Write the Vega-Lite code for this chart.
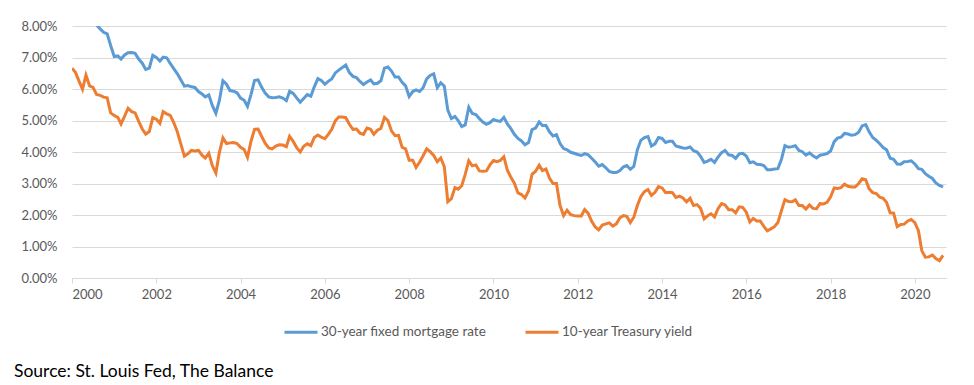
{
 "$schema": "https://vega.github.io/schema/vega-lite/v6.json",
 "width": 874, "height": 252,
 "autosize": {"type": "none"},
 "padding": {"left": 72, "top": 26, "right": 28, "bottom": 107},
 "background": "white",
 "config": {"view": {"stroke": null}, "font": "Lato"},
 "title": {"text": "Source: St. Louis Fed, The Balance", "orient": "bottom", "anchor": "start", "frame": "group", "dx": -58, "dy": -16, "offset": 54, "baseline": "alphabetic", "fontSize": 17.5, "fontWeight": "normal", "color": "#000000", "font": "Lato"},
 "data": {"format": {"parse": {"d": "date:'%Y-%m'"}}, "values": [
{"d":"2000-01","m":8.21,"t":6.66},{"d":"2000-02","m":8.33,"t":6.52},{"d":"2000-03","m":8.24,"t":6.26},{"d":"2000-04","m":8.15,"t":5.99},{"d":"2000-05","m":8.52,"t":6.44},{"d":"2000-06","m":8.29,"t":6.10},{"d":"2000-07","m":8.15,"t":6.05},{"d":"2000-08","m":8.03,"t":5.83},{"d":"2000-09","m":7.91,"t":5.80},{"d":"2000-10","m":7.80,"t":5.74},{"d":"2000-11","m":7.75,"t":5.72},{"d":"2000-12","m":7.38,"t":5.24},
{"d":"2001-01","m":7.03,"t":5.16},{"d":"2001-02","m":7.05,"t":5.10},{"d":"2001-03","m":6.95,"t":4.89},{"d":"2001-04","m":7.08,"t":5.14},{"d":"2001-05","m":7.15,"t":5.39},{"d":"2001-06","m":7.16,"t":5.28},{"d":"2001-07","m":7.13,"t":5.24},{"d":"2001-08","m":6.95,"t":4.97},{"d":"2001-09","m":6.82,"t":4.73},{"d":"2001-10","m":6.62,"t":4.57},{"d":"2001-11","m":6.66,"t":4.65},{"d":"2001-12","m":7.07,"t":5.09},
{"d":"2002-01","m":7.00,"t":5.04},{"d":"2002-02","m":6.89,"t":4.91},{"d":"2002-03","m":7.01,"t":5.28},{"d":"2002-04","m":6.99,"t":5.21},{"d":"2002-05","m":6.81,"t":5.16},{"d":"2002-06","m":6.65,"t":4.93},{"d":"2002-07","m":6.49,"t":4.65},{"d":"2002-08","m":6.29,"t":4.26},{"d":"2002-09","m":6.09,"t":3.87},{"d":"2002-10","m":6.11,"t":3.94},{"d":"2002-11","m":6.07,"t":4.05},{"d":"2002-12","m":6.05,"t":4.03},
{"d":"2003-01","m":5.92,"t":4.05},{"d":"2003-02","m":5.84,"t":3.90},{"d":"2003-03","m":5.75,"t":3.81},{"d":"2003-04","m":5.81,"t":3.96},{"d":"2003-05","m":5.48,"t":3.57},{"d":"2003-06","m":5.23,"t":3.33},{"d":"2003-07","m":5.63,"t":3.98},{"d":"2003-08","m":6.26,"t":4.45},{"d":"2003-09","m":6.15,"t":4.27},{"d":"2003-10","m":5.95,"t":4.29},{"d":"2003-11","m":5.93,"t":4.30},{"d":"2003-12","m":5.88,"t":4.27},
{"d":"2004-01","m":5.71,"t":4.15},{"d":"2004-02","m":5.64,"t":4.08},{"d":"2004-03","m":5.45,"t":3.83},{"d":"2004-04","m":5.83,"t":4.35},{"d":"2004-05","m":6.27,"t":4.72},{"d":"2004-06","m":6.29,"t":4.73},{"d":"2004-07","m":6.06,"t":4.50},{"d":"2004-08","m":5.87,"t":4.28},{"d":"2004-09","m":5.75,"t":4.13},{"d":"2004-10","m":5.72,"t":4.10},{"d":"2004-11","m":5.73,"t":4.19},{"d":"2004-12","m":5.75,"t":4.23},
{"d":"2005-01","m":5.71,"t":4.22},{"d":"2005-02","m":5.63,"t":4.17},{"d":"2005-03","m":5.93,"t":4.50},{"d":"2005-04","m":5.86,"t":4.34},{"d":"2005-05","m":5.72,"t":4.14},{"d":"2005-06","m":5.58,"t":4.00},{"d":"2005-07","m":5.70,"t":4.18},{"d":"2005-08","m":5.82,"t":4.26},{"d":"2005-09","m":5.77,"t":4.20},{"d":"2005-10","m":6.07,"t":4.46},{"d":"2005-11","m":6.33,"t":4.54},{"d":"2005-12","m":6.27,"t":4.47},
{"d":"2006-01","m":6.15,"t":4.42},{"d":"2006-02","m":6.25,"t":4.57},{"d":"2006-03","m":6.32,"t":4.72},{"d":"2006-04","m":6.51,"t":4.99},{"d":"2006-05","m":6.60,"t":5.11},{"d":"2006-06","m":6.68,"t":5.11},{"d":"2006-07","m":6.76,"t":5.09},{"d":"2006-08","m":6.52,"t":4.88},{"d":"2006-09","m":6.40,"t":4.72},{"d":"2006-10","m":6.36,"t":4.73},{"d":"2006-11","m":6.24,"t":4.60},{"d":"2006-12","m":6.14,"t":4.56},
{"d":"2007-01","m":6.22,"t":4.76},{"d":"2007-02","m":6.29,"t":4.72},{"d":"2007-03","m":6.16,"t":4.56},{"d":"2007-04","m":6.18,"t":4.69},{"d":"2007-05","m":6.26,"t":4.75},{"d":"2007-06","m":6.66,"t":5.10},{"d":"2007-07","m":6.70,"t":5.00},{"d":"2007-08","m":6.57,"t":4.67},{"d":"2007-09","m":6.38,"t":4.52},{"d":"2007-10","m":6.38,"t":4.53},{"d":"2007-11","m":6.21,"t":4.15},{"d":"2007-12","m":6.10,"t":4.10},
{"d":"2008-01","m":5.76,"t":3.74},{"d":"2008-02","m":5.92,"t":3.74},{"d":"2008-03","m":5.97,"t":3.51},{"d":"2008-04","m":5.92,"t":3.68},{"d":"2008-05","m":6.04,"t":3.88},{"d":"2008-06","m":6.32,"t":4.10},{"d":"2008-07","m":6.43,"t":4.01},{"d":"2008-08","m":6.48,"t":3.89},{"d":"2008-09","m":6.04,"t":3.69},{"d":"2008-10","m":6.20,"t":3.81},{"d":"2008-11","m":6.09,"t":3.53},{"d":"2008-12","m":5.33,"t":2.42},
{"d":"2009-01","m":5.06,"t":2.52},{"d":"2009-02","m":5.13,"t":2.87},{"d":"2009-03","m":5.00,"t":2.82},{"d":"2009-04","m":4.81,"t":2.93},{"d":"2009-05","m":4.86,"t":3.29},{"d":"2009-06","m":5.42,"t":3.72},{"d":"2009-07","m":5.22,"t":3.56},{"d":"2009-08","m":5.19,"t":3.59},{"d":"2009-09","m":5.06,"t":3.40},{"d":"2009-10","m":4.95,"t":3.39},{"d":"2009-11","m":4.88,"t":3.40},{"d":"2009-12","m":4.93,"t":3.59},
{"d":"2010-01","m":5.03,"t":3.73},{"d":"2010-02","m":4.99,"t":3.69},{"d":"2010-03","m":4.97,"t":3.73},{"d":"2010-04","m":5.10,"t":3.85},{"d":"2010-05","m":4.89,"t":3.42},{"d":"2010-06","m":4.74,"t":3.20},{"d":"2010-07","m":4.56,"t":3.01},{"d":"2010-08","m":4.43,"t":2.70},{"d":"2010-09","m":4.35,"t":2.65},{"d":"2010-10","m":4.23,"t":2.54},{"d":"2010-11","m":4.30,"t":2.76},{"d":"2010-12","m":4.71,"t":3.29},
{"d":"2011-01","m":4.76,"t":3.39},{"d":"2011-02","m":4.95,"t":3.58},{"d":"2011-03","m":4.84,"t":3.41},{"d":"2011-04","m":4.84,"t":3.46},{"d":"2011-05","m":4.64,"t":3.17},{"d":"2011-06","m":4.51,"t":3.00},{"d":"2011-07","m":4.55,"t":3.00},{"d":"2011-08","m":4.27,"t":2.30},{"d":"2011-09","m":4.11,"t":1.98},{"d":"2011-10","m":4.07,"t":2.15},{"d":"2011-11","m":3.99,"t":2.01},{"d":"2011-12","m":3.96,"t":1.98},
{"d":"2012-01","m":3.92,"t":1.97},{"d":"2012-02","m":3.89,"t":1.97},{"d":"2012-03","m":3.95,"t":2.17},{"d":"2012-04","m":3.91,"t":2.05},{"d":"2012-05","m":3.80,"t":1.80},{"d":"2012-06","m":3.68,"t":1.62},{"d":"2012-07","m":3.55,"t":1.53},{"d":"2012-08","m":3.60,"t":1.68},{"d":"2012-09","m":3.50,"t":1.72},{"d":"2012-10","m":3.38,"t":1.75},{"d":"2012-11","m":3.35,"t":1.65},{"d":"2012-12","m":3.35,"t":1.72},
{"d":"2013-01","m":3.41,"t":1.91},{"d":"2013-02","m":3.53,"t":1.98},{"d":"2013-03","m":3.57,"t":1.96},{"d":"2013-04","m":3.45,"t":1.76},{"d":"2013-05","m":3.54,"t":1.93},{"d":"2013-06","m":4.07,"t":2.30},{"d":"2013-07","m":4.37,"t":2.58},{"d":"2013-08","m":4.46,"t":2.74},{"d":"2013-09","m":4.49,"t":2.81},{"d":"2013-10","m":4.19,"t":2.62},{"d":"2013-11","m":4.26,"t":2.72},{"d":"2013-12","m":4.46,"t":2.90},
{"d":"2014-01","m":4.43,"t":2.86},{"d":"2014-02","m":4.30,"t":2.71},{"d":"2014-03","m":4.34,"t":2.72},{"d":"2014-04","m":4.34,"t":2.71},{"d":"2014-05","m":4.19,"t":2.56},{"d":"2014-06","m":4.16,"t":2.60},{"d":"2014-07","m":4.13,"t":2.54},{"d":"2014-08","m":4.12,"t":2.42},{"d":"2014-09","m":4.16,"t":2.53},{"d":"2014-10","m":4.04,"t":2.30},{"d":"2014-11","m":4.00,"t":2.33},{"d":"2014-12","m":3.86,"t":2.21},
{"d":"2015-01","m":3.67,"t":1.88},{"d":"2015-02","m":3.71,"t":1.98},{"d":"2015-03","m":3.77,"t":2.04},{"d":"2015-04","m":3.67,"t":1.94},{"d":"2015-05","m":3.84,"t":2.20},{"d":"2015-06","m":3.98,"t":2.36},{"d":"2015-07","m":4.05,"t":2.32},{"d":"2015-08","m":3.91,"t":2.17},{"d":"2015-09","m":3.89,"t":2.17},{"d":"2015-10","m":3.80,"t":2.07},{"d":"2015-11","m":3.94,"t":2.26},{"d":"2015-12","m":3.96,"t":2.24},
{"d":"2016-01","m":3.87,"t":2.09},{"d":"2016-02","m":3.66,"t":1.78},{"d":"2016-03","m":3.69,"t":1.89},{"d":"2016-04","m":3.61,"t":1.81},{"d":"2016-05","m":3.60,"t":1.81},{"d":"2016-06","m":3.57,"t":1.64},{"d":"2016-07","m":3.44,"t":1.50},{"d":"2016-08","m":3.44,"t":1.56},{"d":"2016-09","m":3.46,"t":1.63},{"d":"2016-10","m":3.47,"t":1.76},{"d":"2016-11","m":3.77,"t":2.14},{"d":"2016-12","m":4.20,"t":2.49},
{"d":"2017-01","m":4.15,"t":2.43},{"d":"2017-02","m":4.17,"t":2.42},{"d":"2017-03","m":4.20,"t":2.48},{"d":"2017-04","m":4.05,"t":2.30},{"d":"2017-05","m":4.01,"t":2.30},{"d":"2017-06","m":3.90,"t":2.19},{"d":"2017-07","m":3.97,"t":2.32},{"d":"2017-08","m":3.88,"t":2.21},{"d":"2017-09","m":3.81,"t":2.20},{"d":"2017-10","m":3.90,"t":2.36},{"d":"2017-11","m":3.92,"t":2.35},{"d":"2017-12","m":3.95,"t":2.40},
{"d":"2018-01","m":4.03,"t":2.58},{"d":"2018-02","m":4.33,"t":2.86},{"d":"2018-03","m":4.44,"t":2.84},{"d":"2018-04","m":4.47,"t":2.87},{"d":"2018-05","m":4.59,"t":2.98},{"d":"2018-06","m":4.57,"t":2.91},{"d":"2018-07","m":4.53,"t":2.89},{"d":"2018-08","m":4.55,"t":2.89},{"d":"2018-09","m":4.63,"t":3.00},{"d":"2018-10","m":4.83,"t":3.15},{"d":"2018-11","m":4.87,"t":3.12},{"d":"2018-12","m":4.64,"t":2.83},
{"d":"2019-01","m":4.46,"t":2.71},{"d":"2019-02","m":4.37,"t":2.68},{"d":"2019-03","m":4.27,"t":2.57},{"d":"2019-04","m":4.14,"t":2.53},{"d":"2019-05","m":4.07,"t":2.40},{"d":"2019-06","m":3.80,"t":2.07},{"d":"2019-07","m":3.77,"t":2.06},{"d":"2019-08","m":3.62,"t":1.63},{"d":"2019-09","m":3.61,"t":1.70},{"d":"2019-10","m":3.69,"t":1.71},{"d":"2019-11","m":3.70,"t":1.81},{"d":"2019-12","m":3.72,"t":1.86},
{"d":"2020-01","m":3.62,"t":1.76},{"d":"2020-02","m":3.47,"t":1.50},{"d":"2020-03","m":3.45,"t":0.87},{"d":"2020-04","m":3.31,"t":0.66},{"d":"2020-05","m":3.23,"t":0.67},{"d":"2020-06","m":3.16,"t":0.73},{"d":"2020-07","m":3.02,"t":0.62},{"d":"2020-08","m":2.94,"t":0.55},{"d":"2020-09","m":2.89,"t":0.72}
 ]},
 "transform": [{"fold": ["m", "t"], "as": ["k", "v"]}],
 "mark": {"type": "line", "strokeWidth": 3, "clip": true},
 "encoding": {
  "x": {"field": "d", "type": "temporal",
   "scale": {"domain": [{"year": 2000, "month": 1, "date": 1}, {"year": 2020, "month": 9, "date": 27}]},
   "axis": {"title": null, "grid": false, "format": "%Y",
    "values": [{"year":2000,"month":1,"date":1},{"year":2002,"month":1,"date":1},{"year":2004,"month":1,"date":1},{"year":2006,"month":1,"date":1},{"year":2008,"month":1,"date":1},{"year":2010,"month":1,"date":1},{"year":2012,"month":1,"date":1},{"year":2014,"month":1,"date":1},{"year":2016,"month":1,"date":1},{"year":2018,"month":1,"date":1},{"year":2020,"month":1,"date":1}],
    "domainColor": "#D9D9D9", "tickColor": "#D9D9D9", "tickSize": 5, "labelColor": "#595959", "labelFontSize": 13, "labelPadding": 5, "labelFont": "Lato"}},
  "y": {"field": "v", "type": "quantitative",
   "scale": {"domain": [0, 8], "nice": false},
   "axis": {"title": null, "values": [0,1,2,3,4,5,6,7,8], "labelExpr": "format(datum.value, '.2f') + '%'", "domain": false, "ticks": false, "gridColor": "#D9D9D9", "gridWidth": 1, "labelColor": "#595959", "labelFontSize": 13, "labelPadding": 15, "labelFont": "Lato"}},
  "color": {"field": "k", "type": "nominal",
   "scale": {"domain": ["m", "t"], "range": ["#5B9BD5", "#ED7D31"]},
   "legend": {"title": null, "orient": "none", "legendX": 211, "legendY": 288, "direction": "horizontal", "symbolType": "stroke", "symbolSize": 1089, "symbolStrokeWidth": 3, "labelExpr": "datum.value == 'm' ? '30-year fixed mortgage rate' : '10-year Treasury yield'", "labelFontSize": 13.5, "labelLimit": 400, "labelColor": "#595959", "labelFont": "Lato", "columnPadding": 32, "labelOffset": 2}}
 }
}
